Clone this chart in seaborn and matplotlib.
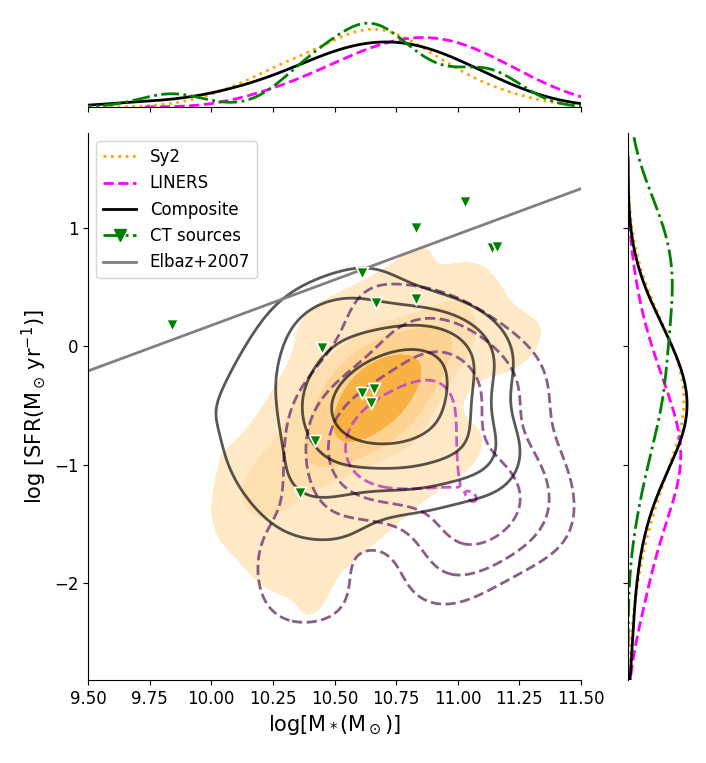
import pandas as pd
import matplotlib
matplotlib.use('Agg')
import matplotlib.pyplot as plt
import seaborn as sns
from matplotlib.lines import Line2D
from matplotlib.colors import ListedColormap

# --- data (log M*, log SFR) ---
sy2_mass = [10.84, 11.00, 10.61, 11.08, 10.40, 10.90, 10.71, 11.16,
            10.42, 10.33, 10.24, 10.56, 10.15, 10.67, 10.31, 10.11, 10.81, 10.50, 10.20,
            9.97, 10.29, 10.35, 10.37, 10.48, 10.51, 10.54, 10.57, 10.58, 10.59,
            10.62, 10.64, 10.66, 10.69, 10.70, 10.73, 10.75, 10.78, 10.78, 10.85,
            10.88, 10.91, 10.95, 11.05, 11.28]
sy2_sfr = [0.76, 0.52, 0.38, 0.30, 0.22, 0.15, 0.10, 0.05,
           -2.23, -1.90, -1.72, -1.58, -1.48, -1.38, -1.30, -1.22, -1.15, -1.09, -1.03,
           -0.87, -0.63, -0.97, -0.30, -0.74, -0.44, -0.14, -0.58, -0.78, -0.26,
           -0.51, -0.37, -0.67, -0.48, -0.22, -0.55, -0.33, -0.06, -0.70, -0.40,
           -0.18, -0.83, -0.10, -0.92, -0.01]

liner_mass = [10.17, 10.26, 10.35, 10.39, 10.44, 10.48, 10.52, 10.55, 10.58, 10.60,
              10.62, 10.65, 10.68, 10.70, 10.72, 10.75, 10.78, 10.79, 10.80, 10.83,
              10.85, 10.87, 10.89, 10.90, 10.93, 10.95, 10.97, 11.00, 11.01, 11.04,
              11.07, 11.09, 11.11, 11.14, 11.16, 11.20, 11.25, 11.30, 11.34, 11.46]
liner_sfr = [-1.51, -2.22, -1.85, -0.52, -1.96, -1.04, -0.57, -1.09, 0.12, -2.40,
             0.59, -0.84, -0.76, -0.93, -0.81, -0.67, -0.88, -1.00, -0.72, -0.96,
             0.30, -0.62, 0.00, -0.26, -2.10, -0.19, -1.75, -1.33, -1.27, -0.47,
             -1.59, -0.11, -1.17, -1.44, -1.21, -0.40, -1.38, -0.34, -1.13, -1.66]

comp_mass = [9.70, 9.96, 10.08, 10.15, 10.21, 10.27, 10.33, 10.37, 10.40, 10.42,
             10.45, 10.48, 10.50, 10.53, 10.56, 10.58, 10.60, 10.63, 10.64, 10.66,
             10.69, 10.71, 10.73, 10.75, 10.77, 10.79, 10.82, 10.84, 10.86, 10.89,
             10.91, 10.94, 10.95, 10.98, 11.02, 11.06, 11.10, 11.14, 11.19, 11.31]
comp_sfr = [-0.71, -0.46, -0.93, -0.21, -1.21, 0.07, -1.57, -0.60, 0.30, -1.13,
            -0.38, 0.13, -0.84, -0.57, -1.41, 0.40, -0.64, -0.31, -2.03, -0.50,
            0.64, -0.75, -0.42, -0.18, -0.99, -0.26, -0.53, 0.02, -1.31, -0.34,
            -0.13, -0.79, 0.21, -2.49, -0.68, -0.09, -1.05, -0.05, -0.88, -1.77]

ct_mass = [9.84, 11.03, 10.83, 11.14, 11.16, 10.61, 10.67, 10.83, 10.45, 10.61,
           10.66, 10.65, 10.42, 10.36]
ct_sfr = [0.18, 1.22, 1.00, 0.83, 0.84, 0.62, 0.36, 0.40, -0.02, -0.40,
          -0.36, -0.48, -0.80, -1.24]

elbaz_mass = [9.5, 11.5]
elbaz_sfr = [-0.21, 1.33]

x_ticks = [9.50, 9.75, 10.00, 10.25, 10.50, 10.75, 11.00, 11.25, 11.50]
y_ticks = [-2, -1, 0, 1]

sy2 = pd.DataFrame({'mass': sy2_mass, 'sfr': sy2_sfr})
liner = pd.DataFrame({'mass': liner_mass, 'sfr': liner_sfr})
comp = pd.DataFrame({'mass': comp_mass, 'sfr': comp_sfr})
ct = pd.DataFrame({'mass': ct_mass, 'sfr': ct_sfr})

plt.rcParams['font.family'] = ['DejaVu Sans']

W, H = 706, 763
fig = plt.figure(figsize=(W / 100, H / 100), dpi=100)
ax = fig.add_axes([88 / W, 1 - 680 / H, 493 / W, 547 / H])
ax_top = fig.add_axes([88 / W, 1 - 107 / H, 493 / W, 88 / H])
ax_right = fig.add_axes([628 / W, 1 - 680 / H, 62 / W, 547 / H])

# main panel
sy2_cmap = ListedColormap(['#ffe9c6', '#fee0b0', '#fdd293', '#fbc36a', '#f8b244'])
sns.kdeplot(x=sy2['mass'], y=sy2['sfr'], fill=True, levels=6, thresh=0.15,
            bw_adjust=0.75, cmap=sy2_cmap, ax=ax)
liner_cmap = ListedColormap(['#7c4c7a', '#8a4a88', '#c448c0', '#dc44d2'])
sns.kdeplot(x=liner['mass'], y=liner['sfr'], levels=5, thresh=0.22,
            ax=ax, cmap=liner_cmap, linestyles='--', linewidths=2, alpha=0.9)
sns.kdeplot(x=comp['mass'], y=comp['sfr'], levels=5, thresh=0.28, bw_adjust=0.85,
            ax=ax, color='black', linewidths=2, alpha=0.65)
ax.plot(elbaz_mass, elbaz_sfr, color='gray', lw=2)
ax.scatter(ct['mass'], ct['sfr'], marker='v', s=75, color='green',
           edgecolor='white', linewidth=1.2, zorder=5)

ax.set_xlim(9.5, 11.5)
ax.set_ylim(-2.82, 1.80)
ax.set_xticks(x_ticks)
ax.set_xticklabels([f'{t:.2f}' for t in x_ticks])
ax.set_yticks(y_ticks)
ax.tick_params(labelsize=12)
ax.set_xlabel(r'$\log[\mathrm{M_*(M_\odot)}]$', fontsize=15)
ax.set_ylabel(r'$\log\,[\mathrm{SFR(M_\odot\,yr^{-1})}]$', fontsize=15)
sns.despine(ax=ax)

handles = [
    Line2D([], [], color='orange', ls=':', lw=2, label='Sy2'),
    Line2D([], [], color='magenta', ls='--', lw=2, label='LINERS'),
    Line2D([], [], color='black', ls='-', lw=2, label='Composite'),
    Line2D([], [], color='green', ls='-.', lw=2, marker='v', markersize=9, label='CT sources'),
    Line2D([], [], color='gray', ls='-', lw=2, label='Elbaz+2007'),
]
ax.legend(handles=handles, loc='upper left', fontsize=12)

# marginals
styles = [(sy2, 'orange', ':', 1.0), (liner, 'magenta', '--', 1.0),
          (comp, 'black', '-', 1.0), (ct, 'green', '-.', 0.65)]
for df, col, ls, bw in styles:
    sns.kdeplot(x=df['mass'], ax=ax_top, color=col, ls=ls, lw=2, bw_adjust=bw)
    sns.kdeplot(y=df['sfr'], ax=ax_right, color=col, ls=ls, lw=2)

ax_top.set_xlim(9.5, 11.5)
ax_top.set_ylim(bottom=0)
ax_top.set_xticks(x_ticks)
ax_right.set_ylim(-2.82, 1.80)
ax_right.set_yticks(y_ticks)
ax_right.set_xlim(left=0)
for a in (ax_top, ax_right):
    a.set_xlabel('')
    a.set_ylabel('')
ax_top.tick_params(labelbottom=False, left=False, labelleft=False)
ax_right.tick_params(labelleft=False, bottom=False, labelbottom=False)
sns.despine(ax=ax_top, left=True)
sns.despine(ax=ax_right, bottom=True)

fig.savefig('out.png', dpi=100)
